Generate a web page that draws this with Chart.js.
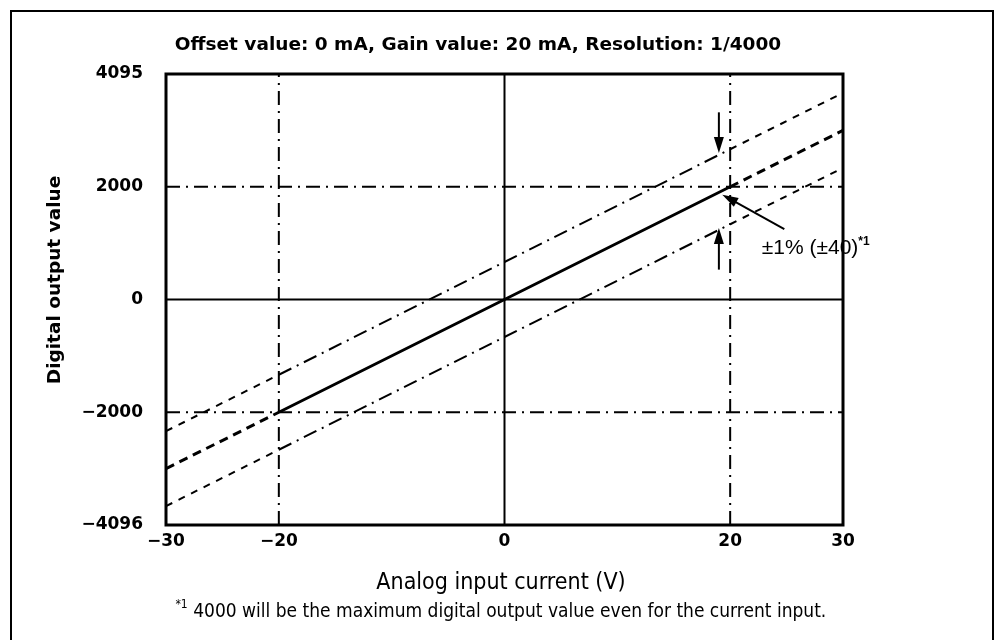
<!DOCTYPE html>
<html>
<head>
<meta charset="utf-8">
<script src="https://cdn.jsdelivr.net/npm/chart.js@4.4.0/dist/chart.umd.min.js"></script>
<style>
    html, body { margin: 0; padding: 0; background: #fff; }
    #wrap { width: 1001px; height: 640px; }
</style>
</head>
<body>
<div id="wrap"><canvas id="myChart" width="1001" height="640"></canvas></div>
<script>
// values
var xPoints = [-30, -20, 0, 20, 30];
var idealValues = [-3000, -2000, 0, 2000, 3000];
var upperValues = [-2335, -1335, 665, 2665, 3665];
var lowerValues = [-3665, -2665, -665, 1335, 2335];

var xTicks = [-30, -20, 0, 20, 30];
var xTickLabels = ["\u221230", "\u221220", "0", "20", "30"];
var yTicks = [-4000, -2000, 0, 2000, 4000];
var yTickLabels = ["\u22124096", "\u22122000", "0", "2000", "4095"];

var refX = [-20, 20];      // dash-dot verticals
var refY = [-2000, 2000];  // dash-dot horizontals

var titleText = "Offset value: 0 mA, Gain value: 20 mA, Resolution: 1/4000";
var xTitle = "Analog input current (V)";
var yTitle = "Digital output value";
var noteText = " 4000 will be the maximum digital output value even for the current input.";

var boldFamily = '"DejaVu Sans", "Liberation Sans", sans-serif';
var narrowFamily = '"Liberation Sans Narrow", "DejaVu Sans Condensed", Arial, sans-serif';
var dashDot = [14, 6, 2, 6];

function toPoints(xs, ys) {
    return xs.map(function (x, i) { return { x: x, y: ys[i] }; });
}

function isOuter(ctx) {
    return ctx.p0.parsed.x < -20 || ctx.p1.parsed.x > 20;
}

var datasets = [];

// reference lines
refX.forEach(function (x) {
    datasets.push({ data: [{ x: x, y: -4000 }, { x: x, y: 4000 }], borderDash: dashDot, borderWidth: 2, order: 5 });
});
refY.forEach(function (y) {
    datasets.push({ data: [{ x: -30, y: y }, { x: 30, y: y }], borderDash: dashDot, borderWidth: 2, order: 5 });
});
datasets.push({ data: [{ x: 0, y: -4000 }, { x: 0, y: 4000 }], borderWidth: 2, order: 5 });
datasets.push({ data: [{ x: -30, y: 0 }, { x: 30, y: 0 }], borderWidth: 2, order: 5 });

// tolerance lines
[upperValues, lowerValues].forEach(function (vals) {
    datasets.push({
        data: toPoints(xPoints, vals),
        borderWidth: 2,
        order: 2,
        segment: { borderDash: function (ctx) { return isOuter(ctx) ? [7, 7] : dashDot; } }
    });
});

// ideal line
datasets.push({
    data: toPoints(xPoints, idealValues),
    borderWidth: 3,
    order: 1,
    segment: { borderDash: function (ctx) { return isOuter(ctx) ? [9, 6] : []; } }
});

datasets.forEach(function (d) {
    d.borderColor = "#000";
    d.pointRadius = 0;
    d.tension = 0;
    d.fill = false;
});

function arrow(ctx, x1, y1, x2, y2) {
    var a = Math.atan2(y2 - y1, x2 - x1);
    var len = 16, w = 5;
    ctx.beginPath();
    ctx.moveTo(x1, y1);
    ctx.lineTo(x2 - Math.cos(a) * len * 0.8, y2 - Math.sin(a) * len * 0.8);
    ctx.stroke();
    ctx.beginPath();
    ctx.moveTo(x2, y2);
    ctx.lineTo(x2 - Math.cos(a) * len - Math.sin(a) * w, y2 - Math.sin(a) * len + Math.cos(a) * w);
    ctx.lineTo(x2 - Math.cos(a) * len + Math.sin(a) * w, y2 - Math.sin(a) * len - Math.cos(a) * w);
    ctx.closePath();
    ctx.fill();
}

var notesPlugin = {
    id: "notes",
    afterDatasetsDraw: function (chart) {
        var ctx = chart.ctx, xs = chart.scales.x, ys = chart.scales.y, a = chart.chartArea;
        ctx.save();
        ctx.strokeStyle = "#000";
        ctx.fillStyle = "#000";

        // plot frame
        ctx.lineWidth = 3;
        ctx.strokeRect(a.left, a.top, a.right - a.left, a.bottom - a.top);

        // outer frame
        ctx.lineWidth = 2;
        ctx.beginPath();
        ctx.moveTo(11, 640);
        ctx.lineTo(11, 11);
        ctx.lineTo(993, 11);
        ctx.lineTo(993, 640);
        ctx.stroke();

        // +-1% arrows
        ctx.lineWidth = 2;
        arrow(ctx, xs.getPixelForValue(19), ys.getPixelForValue(3320), xs.getPixelForValue(19), ys.getPixelForValue(2600));
        arrow(ctx, xs.getPixelForValue(19), ys.getPixelForValue(530), xs.getPixelForValue(19), ys.getPixelForValue(1270));
        arrow(ctx, xs.getPixelForValue(24.8), ys.getPixelForValue(1250), xs.getPixelForValue(19.3), ys.getPixelForValue(1860));

        ctx.textBaseline = "alphabetic";
        ctx.textAlign = "left";
        ctx.font = '21px "Liberation Sans", Arial, sans-serif';
        var lx = xs.getPixelForValue(22.8), ly = ys.getPixelForValue(800);
        ctx.fillText("\u00b11% (\u00b140)", lx, ly);
        var w = ctx.measureText("\u00b11% (\u00b140)").width;
        ctx.font = 'bold 12px "Liberation Sans", Arial, sans-serif';
        ctx.fillText("*1", lx + w, ly - 9);

        // chart title
        ctx.textAlign = "center";
        ctx.textBaseline = "middle";
        ctx.font = "bold 18.5px " + boldFamily;
        ctx.fillText(titleText, 478, 45);

        // y title
        ctx.save();
        ctx.translate(55, 280);
        ctx.rotate(-Math.PI / 2);
        ctx.font = "bold 18.5px " + boldFamily;
        ctx.fillText(yTitle, 0, 0);
        ctx.restore();

        // x title and footnote
        ctx.font = "23px " + narrowFamily;
        ctx.fillText(xTitle, 501, 583);
        ctx.font = "19px " + narrowFamily;
        var nw = ctx.measureText(noteText).width;
        ctx.textAlign = "left";
        var nx = 501 - nw / 2 + 6;
        ctx.fillText(noteText, nx, 612);
        ctx.font = "12px " + narrowFamily;
        ctx.textAlign = "right";
        ctx.fillText("*1", nx, 605);
        ctx.restore();
    }
};

new Chart("myChart", {
    type: "line",
    data: { datasets: datasets },
    options: {
        responsive: false,
        animation: false,
        devicePixelRatio: 1,
        layout: { padding: { left: 0, top: 74, right: 158, bottom: 0 } },
        plugins: { legend: { display: false }, tooltip: { enabled: false } },
        scales: {
            x: {
                type: "linear",
                min: -30,
                max: 30,
                grid: { display: false, drawTicks: false },
                border: { display: false },
                afterBuildTicks: function (scale) {
                    scale.ticks = xTicks.map(function (v) { return { value: v }; });
                },
                afterFit: function (scale) { scale.height = 115; },
                ticks: {
                    autoSkip: false,
                    maxRotation: 0,
                    padding: 6,
                    color: "#000",
                    font: { family: boldFamily, size: 17, weight: "bold" },
                    callback: function (v) { return xTickLabels[xTicks.indexOf(v)]; }
                }
            },
            y: {
                type: "linear",
                min: -4000,
                max: 4000,
                grid: { display: false, drawTicks: false },
                border: { display: false },
                afterBuildTicks: function (scale) {
                    scale.ticks = yTicks.map(function (v) { return { value: v }; });
                },
                afterFit: function (scale) { scale.width = 166; },
                ticks: {
                    autoSkip: false,
                    padding: 23,
                    color: "#000",
                    font: { family: boldFamily, size: 17, weight: "bold" },
                    callback: function (v) { return yTickLabels[yTicks.indexOf(v)]; }
                }
            }
        }
    },
    plugins: [notesPlugin]
});
</script>
</body>
</html>
